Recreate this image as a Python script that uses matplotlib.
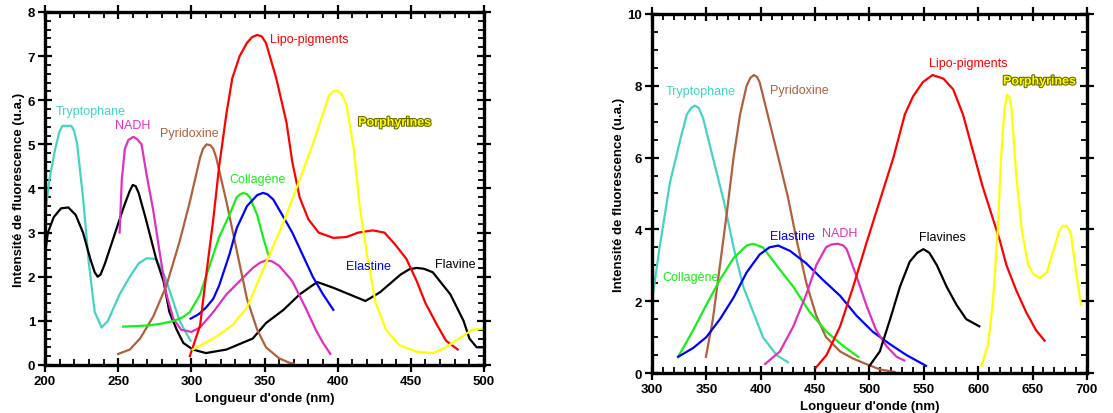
import matplotlib
matplotlib.use('Agg')
import matplotlib.pyplot as plt
import matplotlib.patheffects as pe
from matplotlib.ticker import MultipleLocator

plt.rcParams['font.family'] = ['Liberation Sans', 'DejaVu Sans']

# ---- excitation spectra (left panel) ----
ex_trp_x = [200, 203, 207, 210, 212, 218, 220, 222, 226, 230, 234, 238.7, 243, 251, 258, 264, 269.5, 276, 282, 287, 292, 296, 299.5]
ex_trp_y = [3.4, 4.2, 4.9, 5.3, 5.42, 5.42, 5.3, 5.0, 3.8, 2.3, 1.2, 0.85, 1.0, 1.6, 2.0, 2.3, 2.42, 2.4, 2.0, 1.5, 1.0, 0.75, 0.55]

ex_fla_x = [200, 202, 206, 211, 216, 221, 226, 231, 234, 236, 238, 241, 248, 254, 258, 260, 262, 264, 269, 276, 281, 285, 290, 294.5, 301, 310,
            324, 342, 351, 363, 374, 386, 397, 408, 419, 429, 443, 449, 454, 459, 465, 477, 486, 490, 495, 499]
ex_fla_y = [2.5, 3.0, 3.35, 3.55, 3.57, 3.4, 3.0, 2.4, 2.1, 2.0, 2.05, 2.3, 3.0, 3.6, 3.95, 4.08, 4.05, 3.9, 3.3, 2.4, 1.9, 1.2, 0.8, 0.5, 0.35, 0.27,
            0.35, 0.6, 0.95, 1.25, 1.6, 1.88, 1.75, 1.6, 1.45, 1.65, 2.05, 2.17, 2.2, 2.18, 2.1, 1.6, 1.0, 0.6, 0.4, 0.4]

ex_nadh_x = [251, 252.5, 254.6, 257, 260.4, 263, 266, 269.5, 274, 278.6, 283, 287.7, 293, 300, 306, 315, 324, 333, 342, 347, 351,
             355, 360, 369, 378, 385, 390, 395]
ex_nadh_y = [3.0, 4.2, 4.9, 5.1, 5.17, 5.12, 5.0, 4.3, 3.5, 2.5, 1.6, 1.05, 0.8, 0.75, 0.85, 1.2, 1.6, 1.9, 2.2, 2.32, 2.37,
             2.35, 2.25, 1.9, 1.3, 0.8, 0.5, 0.25]

ex_pyr_x = [250, 254, 258, 265, 274, 283, 292, 299, 306, 308, 310.4, 313, 315, 317, 324, 331, 338, 345, 351, 360, 367, 370]
ex_pyr_y = [0.25, 0.3, 0.35, 0.6, 1.1, 1.8, 2.8, 3.7, 4.7, 4.9, 5.0, 4.98, 4.9, 4.7, 3.7, 2.6, 1.5, 0.8, 0.4, 0.15, 0.05, 0.03]

ex_col_x = [253.5, 262, 272, 280, 288, 294, 299, 306, 313, 319, 326, 331, 333.5, 335.6, 338, 340, 345, 349, 353]
ex_col_y = [0.87, 0.88, 0.9, 0.94, 1.0, 1.08, 1.2, 1.6, 2.3, 2.9, 3.4, 3.8, 3.87, 3.9, 3.87, 3.8, 3.4, 2.9, 2.45]

ex_ela_x = [299.5, 305, 310, 315, 319, 326, 331, 338, 345, 349, 352, 356, 363, 369, 376, 383, 390, 397]
ex_ela_y = [1.05, 1.15, 1.3, 1.5, 1.8, 2.5, 3.1, 3.6, 3.85, 3.9, 3.87, 3.75, 3.35, 3.0, 2.5, 2.0, 1.6, 1.25]

ex_lipo_x = [299, 306, 310, 315, 319, 324, 328, 333, 338, 341.5, 345, 348, 351, 358, 365, 369, 374, 380, 387, 397, 406, 414, 424,
             432, 440, 447, 454, 460, 468, 474, 482]
ex_lipo_y = [0.2, 0.9, 2.0, 3.3, 4.5, 5.7, 6.5, 7.0, 7.3, 7.43, 7.48, 7.45, 7.3, 6.5, 5.5, 4.6, 3.8, 3.3, 3.0, 2.88, 2.9, 3.0, 3.05,
             3.0, 2.7, 2.4, 1.9, 1.4, 0.9, 0.55, 0.35]

ex_por_x = [301, 315, 328, 338, 347, 356, 365, 374, 383, 390, 394, 397, 399.5, 402.5, 406, 411, 415, 420, 426, 433, 442, 454, 465,
            474, 483, 492, 499]
ex_por_y = [0.35, 0.6, 0.9, 1.3, 2.0, 2.7, 3.4, 4.2, 5.0, 5.7, 6.1, 6.2, 6.22, 6.15, 5.9, 4.9, 3.6, 2.5, 1.4, 0.8, 0.45, 0.3, 0.27,
            0.4, 0.6, 0.8, 0.82]

# ---- emission spectra (right panel) ----
em_trp_x = [300, 307, 316.5, 326, 332, 336, 339.5, 343, 347, 356, 366, 375, 384, 393, 402, 414.5, 425]
em_trp_y = [2.0, 3.5, 5.3, 6.5, 7.2, 7.38, 7.45, 7.38, 7.1, 6.0, 4.8, 3.5, 2.4, 1.7, 1.0, 0.5, 0.3]

em_pyr_x = [349.6, 356, 362.5, 369, 375, 381, 387, 390.5, 393.6, 396.5, 399, 408, 417, 425, 433, 442, 451, 460, 473, 485, 497, 509.5, 523]
em_pyr_y = [0.45, 1.5, 3.0, 4.5, 6.0, 7.2, 8.0, 8.22, 8.3, 8.25, 8.1, 7.0, 5.9, 4.9, 3.7, 2.5, 1.6, 1.0, 0.6, 0.4, 0.25, 0.1, 0.03]

em_col_x = [324, 338, 350, 362.5, 375, 387, 393, 402, 414.5, 430, 445, 460.5, 476, 489.6]
em_col_y = [0.45, 1.2, 1.9, 2.6, 3.2, 3.55, 3.6, 3.5, 3.0, 2.4, 1.7, 1.15, 0.75, 0.45]

em_ela_x = [324, 338, 350, 362.5, 375, 387, 399, 408, 416, 427, 442, 457, 473, 488, 503, 519, 534, 552]
em_ela_y = [0.45, 0.7, 1.0, 1.5, 2.1, 2.8, 3.3, 3.5, 3.55, 3.4, 3.05, 2.6, 2.15, 1.6, 1.15, 0.8, 0.5, 0.2]

em_nadh_x = [404, 417.6, 430, 442, 451, 460, 465, 471, 476, 479, 488, 497, 506, 515.6, 525, 532]
em_nadh_y = [0.25, 0.6, 1.3, 2.2, 3.0, 3.5, 3.58, 3.6, 3.55, 3.45, 2.7, 1.9, 1.2, 0.75, 0.45, 0.35]

em_lipo_x = [450.7, 460.5, 473, 485, 497, 509.5, 522, 532.5, 540, 549, 558, 568, 577, 586, 595, 604, 613.5, 619.8,
             626, 635, 644, 653, 661]
em_lipo_y = [0.15, 0.5, 1.3, 2.4, 3.6, 4.8, 6.0, 7.2, 7.7, 8.1, 8.3, 8.2, 7.9, 7.2, 6.2, 5.2, 4.3, 3.7,
             3.0, 2.3, 1.7, 1.2, 0.9]

em_fla_x = [500, 509.5, 519, 528, 537, 544, 549.6, 555, 562, 571, 580, 589, 601]
em_fla_y = [0.2, 0.6, 1.5, 2.4, 3.1, 3.35, 3.45, 3.35, 3.0, 2.4, 1.9, 1.5, 1.3]

em_por_x = [603, 609, 613.6, 618, 621, 624, 626.5, 628.5, 630.5, 635, 640, 646, 651, 656.6, 663, 669, 675, 678, 681, 683.5, 685.6, 690, 694.6]
em_por_y = [0.2, 0.8, 2.0, 4.0, 6.0, 7.3, 7.75, 7.7, 7.4, 5.5, 4.0, 3.0, 2.75, 2.65, 2.8, 3.4, 4.0, 4.1, 4.1, 4.0, 3.8, 2.8, 1.9]

c_trp = '#45d3c3'
c_nadh = '#e030c0'
c_pyr = '#b0603c'
c_col = '#18ee18'
c_ela = '#0000ff'
c_lipo = '#ff0000'
c_por = '#ffff00'
c_fla = '#000000'

fig = plt.figure(figsize=(11.13, 4.14), dpi=100)
ax1 = fig.add_axes([0.0404, 0.116, 0.3945, 0.8526])
ax2 = fig.add_axes([0.5858, 0.0966, 0.3908, 0.8672])

lw = 1.6
ax1.plot(ex_trp_x, ex_trp_y, color=c_trp, lw=lw)
ax1.plot(ex_fla_x, ex_fla_y, color=c_fla, lw=lw)
ax1.plot(ex_nadh_x, ex_nadh_y, color=c_nadh, lw=lw)
ax1.plot(ex_pyr_x, ex_pyr_y, color=c_pyr, lw=lw)
ax1.plot(ex_col_x, ex_col_y, color=c_col, lw=lw)
ax1.plot(ex_ela_x, ex_ela_y, color=c_ela, lw=lw)
ax1.plot(ex_lipo_x, ex_lipo_y, color=c_lipo, lw=lw)
ax1.plot(ex_por_x, ex_por_y, color=c_por, lw=lw)

ax2.plot(em_trp_x, em_trp_y, color=c_trp, lw=lw)
ax2.plot(em_pyr_x, em_pyr_y, color=c_pyr, lw=lw)
ax2.plot(em_col_x, em_col_y, color=c_col, lw=lw)
ax2.plot(em_ela_x, em_ela_y, color=c_ela, lw=lw)
ax2.plot(em_nadh_x, em_nadh_y, color=c_nadh, lw=lw)
ax2.plot(em_lipo_x, em_lipo_y, color=c_lipo, lw=lw)
ax2.plot(em_fla_x, em_fla_y, color=c_fla, lw=lw)
ax2.plot(em_por_x, em_por_y, color=c_por, lw=lw)

por_fx = [pe.withStroke(linewidth=1.6, foreground='#6b6b00')]
fs = 9

# labels left
ax1.text(207, 5.75, 'Tryptophane', color=c_trp, fontsize=fs, va='center')
ax1.text(248, 5.43, 'NADH', color=c_nadh, fontsize=fs, va='center')
ax1.text(278.6, 5.25, 'Pyridoxine', color=c_pyr, fontsize=fs, va='center')
ax1.text(353.7, 7.38, 'Lipo-pigments', color=c_lipo, fontsize=fs, va='center')
ax1.text(414, 5.49, 'Porphyrines', color=c_por, fontsize=fs, va='center', fontweight='bold', path_effects=por_fx)
ax1.text(326, 4.22, 'Collagène', color=c_col, fontsize=fs, va='center')
ax1.text(405.6, 2.25, 'Elastine', color=c_ela, fontsize=fs, va='center')
ax1.text(466.5, 2.29, 'Flavine', color=c_fla, fontsize=fs, va='center')

# labels right
ax2.text(312.9, 7.85, 'Tryptophane', color=c_trp, fontsize=fs, va='center')
ax2.text(408.4, 7.89, 'Pyridoxine', color=c_pyr, fontsize=fs, va='center')
ax2.text(554.8, 8.63, 'Lipo-pigments', color=c_lipo, fontsize=fs, va='center')
ax2.text(622.8, 8.12, 'Porphyrines', color=c_por, fontsize=fs, va='center', fontweight='bold', path_effects=por_fx)
ax2.text(408.4, 3.83, 'Elastine', color=c_ela, fontsize=fs, va='center')
ax2.text(456.5, 3.9, 'NADH', color=c_nadh, fontsize=fs, va='center')
ax2.text(545.7, 3.8, 'Flavines', color=c_fla, fontsize=fs, va='center')
ax2.text(309.5, 2.67, 'Collagène', color=c_col, fontsize=fs, va='center')

def style_axes(ax, xlim, ylim, xmaj, ymaj, ymin):
    ax.set_xlim(xlim)
    ax.set_ylim(ylim)
    ax.xaxis.set_major_locator(MultipleLocator(xmaj))
    ax.xaxis.set_minor_locator(MultipleLocator(10))
    ax.yaxis.set_major_locator(MultipleLocator(ymaj))
    ax.yaxis.set_minor_locator(MultipleLocator(ymin))
    for sp in ax.spines.values():
        sp.set_linewidth(2.4)
    ax.tick_params(which='major', direction='inout', length=10, width=1.6,
                   top=True, right=True, labelsize=9.5, pad=2)
    ax.tick_params(which='minor', direction='in', length=4, width=1.3, top=True, right=True)
    for lab in ax.get_xticklabels() + ax.get_yticklabels():
        lab.set_fontweight('bold')
    ax.set_xlabel("Longueur d'onde (nm)", fontsize=9.5, fontweight='bold', labelpad=4)
    ax.set_ylabel('Intensité de fluorescence (u.a.)', fontsize=9.5, fontweight='bold', labelpad=2)

style_axes(ax1, (200, 500), (0, 8), 50, 1, 0.2)
style_axes(ax2, (300, 700), (0, 10), 50, 2, 0.5)

fig.savefig('out.png', dpi=100)
